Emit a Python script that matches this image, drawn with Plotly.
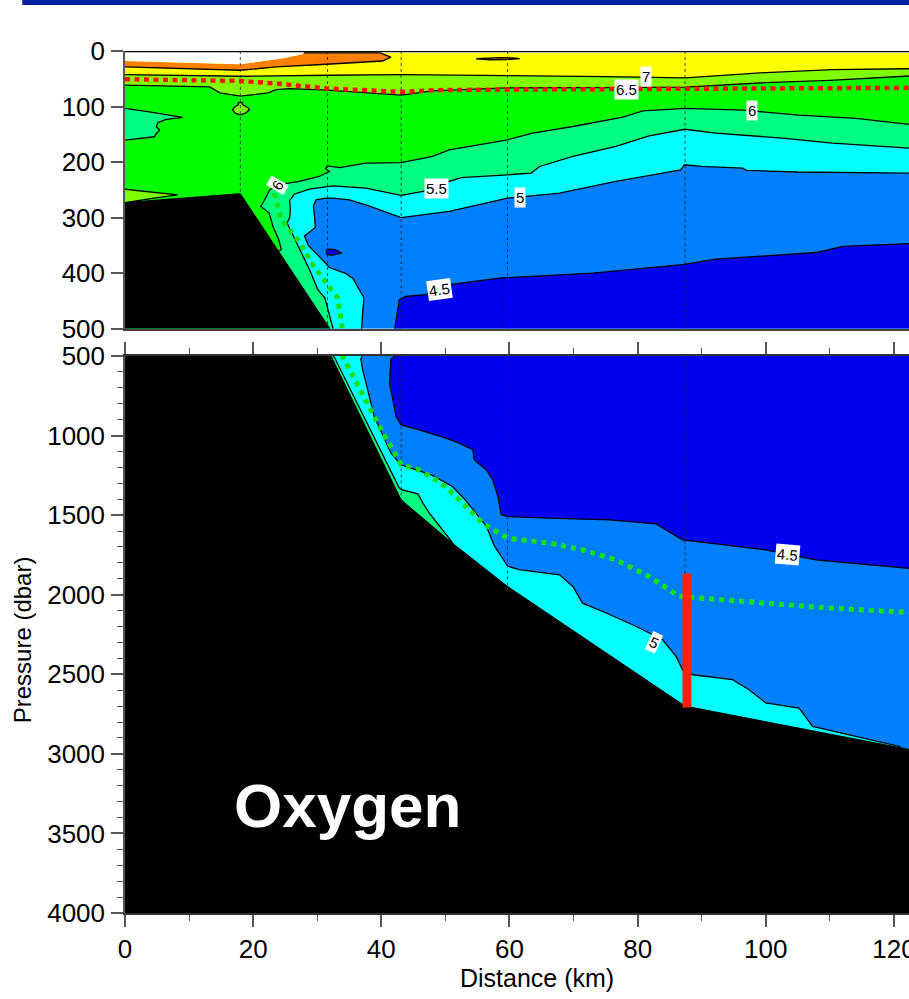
import numpy as np
import plotly.graph_objects as go

XMAX = 122.35
FONT = "Liberation Sans, Arial, sans-serif"

# ---------------- data (distance km, pressure dbar) ----------------
ST_km = [0, 18.0, 31.6, 43.1, 59.7, 87.4]
ST_name = ["07", "06", "05", "04", "03", "02"]

BATH_km = [0, 18.0, 32.2, 43.1, 51.1, 59.7, 87.4, XMAX]
BATH_p = [273, 257, 504, 1404, 1676, 1948, 2700, 2972]

SURF_km = [0, 0, 18.0, 21.4, 24.5, 27.7, 27.9, XMAX, XMAX]
SURF_p = [0, 18, 24, 18, 13.7, 6, 3.5, 3.5, 0]

C75_km = [0, 18.0, 21.4, 24.5, 27.7, 27.9, 39.8, 41.5, 40.2, 31.4, 23.6, 18.0, 0]
C75_p = [18, 24, 18, 13.7, 6, 3.5, 3.5, 11, 18, 23.9, 28.7, 34.7, 28.7]
LENS75_km = [54.8, 56.5, 58.5, 60.5, 61.6, 59.5, 57.0]
LENS75_p = [14.0, 12.5, 11.8, 12.5, 13.8, 15.5, 15.8]

C7_km = [XMAX, 110.4, 100.0, 96.0, 87.4, 75.0, 59.7, 43.1, 31.6, 18.0, 0]
C7_p = [32, 33.5, 38.9, 42, 48.5, 46, 43.7, 42.4, 43.7, 45.5, 42.4]

C65_km = [XMAX, 110, 100, 87.4, 75, 59.7, 48, 43.1, 31.6, 25.7, 23.6, 22.3, 18.0, 14.8, 13.2, 0]
C65_p = [45, 53, 57, 65, 66, 66.4, 71.8, 79.6, 70.6, 67.6, 69.4, 75.4, 81.4, 75.4, 64.7, 61.6]
LENS65A_km = [17.2, 17.7, 17.7, 18.3, 18.4, 19.2, 19.4, 18.8, 18.0, 17.2, 16.8]
LENS65A_p = [100, 97, 93, 93, 97, 102, 106, 112, 115, 112, 106]
LENS65B_km = [0, 4.5, 8.2, 4.0, 0]
LENS65B_p = [249, 254, 259, 266, 273]

C6_km = [XMAX, 114.1, 105.2, 96.4, 87.4, 80.8, 77.7, 69.9, 63.6, 59.7, 50.6, 48.0, 43.1,
         37.6, 33.5, 31.6, 31.3, 31.9, 30.3, 27.2, 24.5, 22.6, 21.8, 21.2, 22.5, 23.1,
         24.0, 24.4, 23.9]
C6_p = [132, 121.5, 115.5, 106.5, 103.5, 108, 119, 136, 148, 160, 178, 190, 201,
        202, 210, 207, 212, 217, 226, 235, 240, 250, 268, 280, 292, 316,
        340, 358, 361]
LENS6_km = [0, 3.8, 9.0, 6.4, 5.1, 4.9, 5.4, 4.9, 4.6, 0]
LENS6_p = [103.5, 109.6, 119.7, 123.2, 129.3, 136.5, 142.5, 148.5, 154.5, 160.4]

C55_km = [XMAX, 110.4, 102.6, 92.2, 87.4, 81.8, 76.6, 69.9, 64.7, 63.4, 59.7, 52.5, 50.6,
          46.5, 43.1, 37.6, 32.4, 28.8, 26.4, 25.7, 25.8, 25.7, 25.3, 26.5, 27.8, 28.8,
          30.1, 31.2, 31.9, 32.4, 32.7, 42.8, 43.3, 45.7, 46.5, 47.5, 49.1, 51.2]
C55_p = [175, 166, 157, 148, 141, 153, 172, 190, 208, 220, 223, 228, 235,
         253, 260, 247, 243, 249, 258, 270, 285, 300, 310, 340, 370, 394,
         430, 445, 478, 500, 510, 1330, 1341, 1366, 1425, 1488, 1572, 1678]

C5_km = [XMAX, 105, 97, 96.4, 90, 88, 87.3, 87.0, 86.7, 83.9, 76.6, 67.8, 59.7, 50.6, 43.1,
         37.6, 35.0, 32.4, 31.4, 29.8, 29.4, 29.6, 29.7, 28.8, 28.0, 28.6, 29.3, 30.3,
         31.9, 34.5, 35.6, 36.6, 37.3, 37.1, 37.0, 36.8, 37.1, 38.9, 41.5, 43.1, 45.4,
         47.8, 51.1, 53.0, 54.6, 56.4, 57.6, 59.7, 61.5, 67.8, 69.9, 71.4, 75.1, 79.8,
         83.9, 86.0, 87.0, 88.6, 94.8, 97.4, 100.0, 105.2, 107.3, 117.7, 121.0]
C5_p = [220, 218, 215, 211, 208, 205, 205, 210, 214, 220, 235, 256, 265, 289, 300,
        277, 268, 265, 265, 268, 280, 300, 318, 326, 333, 350, 358, 370,
        390, 401, 410, 430, 445, 470, 500, 520, 588, 881, 1111, 1184, 1216,
        1247, 1320, 1400, 1480, 1570, 1690, 1820, 1843, 1875, 1948, 2053, 2115, 2200,
        2283, 2388, 2471, 2503, 2534, 2597, 2680, 2712, 2827, 2921, 2955]

C45_km = [XMAX, 112, 107.8, 92.2, 87, 73, 58.4, 50.6, 47, 43.8, 42.8, 42.3, 42.1, 41.5, 41.3,
          42.3, 43.1, 45.9, 49.6, 52.2, 54.3, 54.5, 56.4, 57.4, 58.2, 58.7, 59.7, 66.2,
          75.6, 82.9, 87, 100, 107.8, XMAX]
C45_p = [347, 352, 363, 375, 385, 400, 409, 421, 439, 442, 448, 484, 500, 520, 671,
         881, 933, 965, 1010, 1048, 1090, 1153, 1216, 1278, 1383, 1498, 1509, 1519,
         1530, 1555, 1655, 1718, 1781, 1835]
BLOB45_km = [31.4, 31.6, 32.8, 33.8, 32.2, 31.5]
BLOB45_p = [360, 357, 358, 364, 368, 366]

RED_km = [0, 18, 23.6, 31.6, 43.1, 48, 59.7, 87.4, XMAX]
RED_p = [50.8, 53.9, 58.6, 67.6, 73.6, 70.6, 69.4, 68.2, 66.4]

GRN_km = [23.3, 24.4, 27.2, 29.3, 31.4, 33.2, 33.7, 33.9, 35.5, 38.1, 40.0, 41.8, 43.1,
          45.9, 48.5, 50.6, 53.2, 55.8, 59.7, 66.2, 71.4, 76.6, 81.8, 86.5, 89.6, 100,
          110.4, XMAX]
GRN_p = [256, 304, 343, 385, 418, 445, 484, 505, 630, 818, 965, 1090, 1184,
         1216, 1278, 1341, 1446, 1550, 1645, 1676, 1718, 1781, 1886, 2011, 2021, 2053,
         2085, 2111]

BAR_km = [87.7, 87.7]
BAR_p = [1866, 2709]

LABELS = [  # text, km, dbar, angle
    ("7", 81.3, 46.7, 0), ("6.5", 78.2, 69.4, 0), ("6", 97.8, 106.5, 0),
    ("5.5", 48.6, 247, 0), ("5", 61.7, 263, 0), ("4.5", 49.1, 430, -8),
    ("6", 23.8, 243, -60), ("4.5", 103.4, 1749, 5), ("5", 82.6, 2300, 25),
]

COL = dict(orange="#FF8000", yellow="#FFFF00", ygreen="#80FF00", green="#00FF00",
           spring="#00FF80", cyan="#00FFFF", azure="#0080FF", blue="#0000F0")

# ---------------- figure ----------------
fig = go.Figure()
AX = [("x", "y"), ("x2", "y2")]


def poly(xs, ys, color):
    for xa, ya in AX:
        fig.add_trace(go.Scatter(x=xs, y=ys, fill="toself", fillcolor=color, mode="lines",
                                 line=dict(width=0), hoverinfo="skip", showlegend=False,
                                 xaxis=xa, yaxis=ya))


def line(xs, ys, color="black", width=1.3, dash=None):
    for xa, ya in AX:
        fig.add_trace(go.Scatter(x=xs, y=ys, mode="lines",
                                 line=dict(color=color, width=width, dash=dash),
                                 hoverinfo="skip", showlegend=False, xaxis=xa, yaxis=ya))


def region_to_bottom(kms, ps):
    xs = list(kms) + [kms[-1], 0, 0, XMAX]
    ys = list(ps) + [4000, 4000, 0, 0]
    return xs, ys


def region_to_left(kms, ps):
    return list(kms) + [0, XMAX], list(ps) + [0, 0]


# fills (painter order)
poly(C45_km, C45_p, COL["blue"])
poly(BLOB45_km, BLOB45_p, COL["blue"])
poly(*region_to_bottom(C5_km, C5_p), COL["cyan"])
poly(*region_to_bottom(C55_km, C55_p), COL["spring"])
poly(*region_to_bottom(C6_km, C6_p), COL["green"])
poly(LENS6_km, LENS6_p, COL["spring"])
poly(*region_to_left(C65_km, C65_p), COL["ygreen"])
poly(LENS65A_km, LENS65A_p, COL["ygreen"])
poly(LENS65B_km, LENS65B_p, COL["ygreen"])
poly(*region_to_left(C7_km, C7_p), COL["yellow"])
poly(C75_km, C75_p, COL["orange"])
poly(LENS75_km, LENS75_p, COL["orange"])
poly(SURF_km, SURF_p, "white")

# contour lines
for kms, ps in [(C45_km, C45_p), (C5_km, C5_p), (C55_km, C55_p), (C6_km, C6_p),
                (C65_km, C65_p), (C7_km, C7_p)]:
    line(kms, ps)
line(C75_km[5:], C75_p[5:])
line(BLOB45_km + BLOB45_km[:1], BLOB45_p + BLOB45_p[:1])
line(LENS6_km, LENS6_p)
line(LENS65A_km + LENS65A_km[:1], LENS65A_p + LENS65A_p[:1])
line(LENS65B_km, LENS65B_p)
line(LENS75_km + LENS75_km[:1], LENS75_p + LENS75_p[:1])

# bathymetry
poly(BATH_km + [XMAX, 0], BATH_p + [4000, 4000], "black")
line(BATH_km, BATH_p, width=1)

# station dashed lines
st_bottom = np.interp(ST_km, BATH_km, BATH_p)
for k, b in zip(ST_km[1:], st_bottom[1:]):
    line([k, k], [0, b], color="#222222", width=0.8, dash="3px,3px")

# dotted tracers
line(RED_km, RED_p, color="#FF1010", width=4.5, dash="5px,4.5px")
line(GRN_km, GRN_p, color="#18E018", width=5, dash="5px,5px")
fig.add_trace(go.Scatter(x=BAR_km, y=BAR_p, mode="lines", line=dict(color="#FF2200", width=9),
                         hoverinfo="skip", showlegend=False, xaxis="x2", yaxis="y2"))

# station markers
fig.add_trace(go.Scatter(x=ST_km, y=[-12] * len(ST_km), mode="markers",
                         marker=dict(symbol="triangle-down", size=13, color="black"),
                         cliponaxis=False, hoverinfo="skip", showlegend=False,
                         xaxis="x", yaxis="y"))
for k, n in zip(ST_km, ST_name):
    fig.add_annotation(x=k, y=-50, xref="x", yref="y", text=n, showarrow=False,
                       xanchor="center", yanchor="middle",
                       font=dict(family=FONT, size=17, color="black"))

# contour labels
for t, k, p, a in LABELS:
    yr = "y" if p <= 500 else "y2"
    xr = "x" if p <= 500 else "x2"
    fig.add_annotation(x=k, y=p, xref=xr, yref=yr, text=t, showarrow=False, textangle=a,
                       xanchor="center", yanchor="middle", bgcolor="white", borderpad=1,
                       font=dict(family=FONT, size=15, color="black"))

fig.add_annotation(x=16.7, y=3322, xref="x2", yref="y2", text="<b>Oxygen</b>", showarrow=False,
                   xanchor="left", yanchor="middle",
                   font=dict(family=FONT, size=62, color="white"))

fig.add_annotation(x=-0.131, y=0.3167, xref="paper", yref="paper", text="Pressure (dbar)",
                   textangle=-90, showarrow=False, xanchor="center", yanchor="middle",
                   font=dict(family=FONT, size=24, color="black"))
fig.add_annotation(x=0.5255, y=-0.0754, xref="paper", yref="paper", text="Distance (km)",
                   showarrow=False, xanchor="center", yanchor="middle",
                   font=dict(family=FONT, size=25, color="black"))

# top frame line and blue banner
fig.add_shape(type="line", xref="paper", yref="y", x0=0, x1=1, y0=0, y1=0,
              line=dict(color="black", width=2.5), layer="above")
fig.add_shape(type="rect", xref="paper", yref="paper", x0=-0.131, x1=1.01, y0=1.0534, y1=1.07,
              fillcolor="#0623a3", line=dict(width=0), layer="above")

tickfont = dict(family=FONT, size=26, color="black")
fig.update_layout(
    width=909, height=999, margin=dict(l=125, r=0, t=51, b=86, autoexpand=False),
    paper_bgcolor="white", plot_bgcolor=COL["azure"], showlegend=False,
    xaxis=dict(domain=[0, 1], range=[0, XMAX], showticklabels=False, ticks="",
               showline=True, linecolor="#444", linewidth=1.5, showgrid=False, zeroline=False,
               anchor="y"),
    yaxis=dict(domain=[0.678, 1], range=[500, 0], tickvals=[0, 100, 200, 300, 400, 500],
               ticks="outside", ticklen=12, tickwidth=1.5, tickcolor="#555", showline=True,
               linecolor="#555", linewidth=1.5, showgrid=False, zeroline=False,
               ticklabelstandoff=1, tickfont=tickfont, anchor="x"),
    xaxis2=dict(domain=[0, 1], range=[0, XMAX], tick0=0, dtick=20, ticks="outside",
                ticklen=12, tickwidth=1.5, tickcolor="#555", mirror="ticks", showline=True,
                linecolor="#333", linewidth=1.5, showgrid=False, zeroline=False,
                ticklabeloverflow="allow", automargin=False,
                minor=dict(dtick=10, ticks="outside", ticklen=6, tickcolor="#555", tickwidth=1.2),
                tickfont=tickfont, anchor="y2"),
    yaxis2=dict(domain=[0, 0.6462], range=[4000, 500], tick0=500, dtick=500, ticks="outside",
                ticklen=12, tickwidth=1.5, tickcolor="#555", showline=True, linecolor="#555",
                linewidth=1.5, showgrid=False, zeroline=False, ticklabelstandoff=1,
                minor=dict(dtick=100, ticks="outside", ticklen=6, tickcolor="#555", tickwidth=1.2),
                tickfont=tickfont, anchor="x2"),
)

fig.write_html("out.html", config={"displayModeBar": False},
               post_script="document.body.style.margin='0';"
                           "document.body.style.overflow='hidden';")
